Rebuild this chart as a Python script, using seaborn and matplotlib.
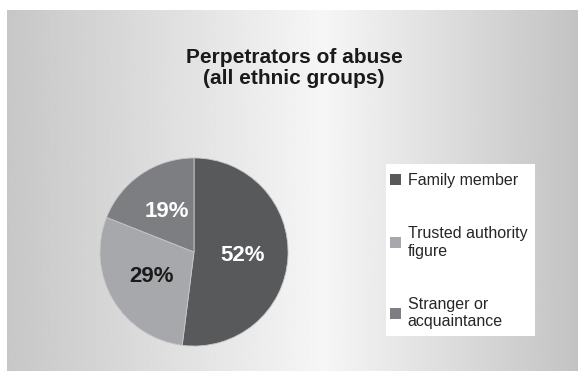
import numpy as np
import matplotlib
matplotlib.use("Agg")
import matplotlib.pyplot as plt
import seaborn as sns
from matplotlib.patches import Rectangle

# ---- data ----
categories = ["Family member", "Trusted authority\nfigure", "Stranger or\nacquaintance"]
values = [52, 29, 19]
colors = ["#58595b", "#a7a8ab", "#7d7e81"]
label_colors = ["white", "#1a1a1a", "white"]
title = "Perpetrators of abuse\n(all ethnic groups)"

sns.set_theme(style="white")
plt.rcParams['font.family'] = ['Liberation Sans', 'DejaVu Sans']

W, H = 578, 371
fig = plt.figure(figsize=(W / 100, H / 100), dpi=100)
fig.patch.set_facecolor("white")

# background gradient panel
bg = fig.add_axes([7 / W, 0, 1 - 7 / W + 0.01, 1 - 10 / H])
xs = np.linspace(7, W, 600)
grad = np.interp(xs, [7, 320, W], [0.78, 0.965, 0.76])
bg.imshow(np.tile(grad, (2, 1)), cmap="gray", vmin=0, vmax=1, aspect="auto",
          extent=[0, 1, 0, 1])
bg.set_axis_off()

# title
fig.text(294 / W, 1 - 68 / H, title, ha="center", va="center",
         fontsize=15, fontweight="bold", color="#1a1a1a", linespacing=1.15)

# pie
cx, cy, r = 194, 252, 95
ax = fig.add_axes([(cx - r) / W, (H - cy - r) / H, 2 * r / W, 2 * r / H])
wedges, texts, autotexts = ax.pie(
    values, colors=colors, startangle=90, counterclock=False,
    autopct="%d%%", pctdistance=0.52, radius=1,
    wedgeprops=dict(edgecolor="#c8c8c8", linewidth=0.6),
    textprops=dict(fontsize=16, fontweight="bold"))
for t, c in zip(autotexts, label_colors):
    t.set_color(c)
ax.set_xlim(-1.01, 1.01)
ax.set_ylim(-1.01, 1.01)
ax.set_aspect("equal")
ax.set_axis_off()

# legend box
lx0, ly0, lx1, ly1 = 386, 164, 535, 336
fig.patches.append(Rectangle((lx0 / W, 1 - ly1 / H), (lx1 - lx0) / W, (ly1 - ly0) / H,
                             transform=fig.transFigure, facecolor="white",
                             edgecolor="none", zorder=1))
leg = fig.legend(wedges, categories, loc="upper left",
                 bbox_to_anchor=(385 / W, 1 - 168 / H), frameon=False,
                 fontsize=11.5, handlelength=0.72, handleheight=0.72,
                 handletextpad=0.4, labelspacing=2.4, borderpad=0.3,
                 borderaxespad=0)
for h in leg.legend_handles:
    h.set_edgecolor("none")
leg.set_zorder(2)

fig.savefig("out.png", dpi=100)
